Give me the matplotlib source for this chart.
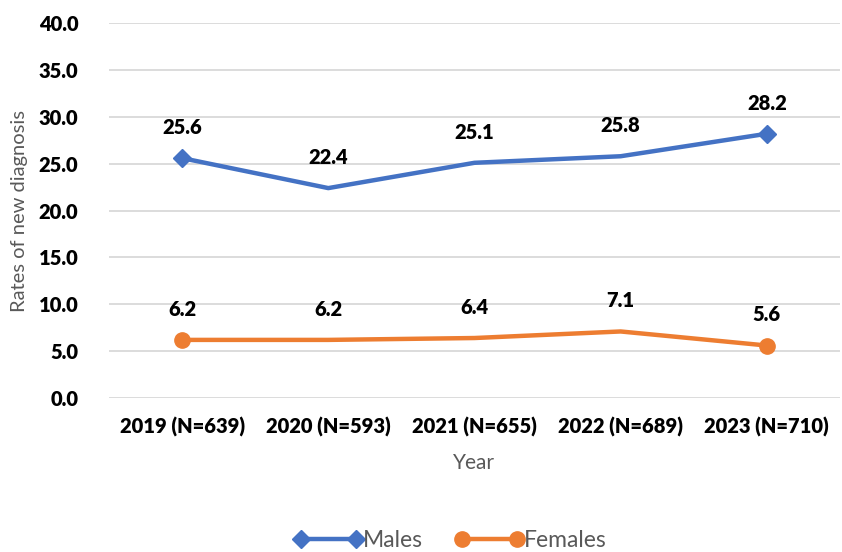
import matplotlib
matplotlib.use("Agg")
import matplotlib.pyplot as plt
from matplotlib.lines import Line2D

categories = ["2019 (N=639)", "2020 (N=593)", "2021 (N=655)", "2022 (N=689)", "2023 (N=710)"]
males = [25.6, 22.4, 25.1, 25.8, 28.2]
females = [6.2, 6.2, 6.4, 7.1, 5.6]
y_ticks = [0, 5, 10, 15, 20, 25, 30, 35, 40]

BLUE = "#4472C4"
ORANGE = "#ED7D31"
GRID = "#D9D9D9"
GREY = "#595959"
BOLD = "heavy"

plt.rcParams["font.family"] = ["Lato", "DejaVu Sans"]

fig = plt.figure(figsize=(8.42, 5.52), dpi=100)
ax = fig.add_axes([0.1295, 0.279, 0.868, 0.679])

x = list(range(len(categories)))
ax.plot(x, males, color=BLUE, lw=3.2, marker="D", markersize=9,
        markevery=[0, len(x) - 1], solid_capstyle="round", solid_joinstyle="round", zorder=3)
ax.plot(x, females, color=ORANGE, lw=3.2, marker="o", markersize=11,
        markevery=[0, len(x) - 1], solid_capstyle="round", solid_joinstyle="round", zorder=3)

for series in (males, females):
    for xi, v in zip(x, series):
        ax.annotate(f"{v:.1f}", (xi, v), xytext=(0, 22), textcoords="offset points",
                    ha="center", va="center", fontsize=14.5, fontweight=BOLD, color="black")

ax.set_xlim(-0.5, len(x) - 0.5)
ax.set_ylim(0, 40)
ax.set_yticks(y_ticks)
ax.set_yticklabels([f"{t:.1f}" for t in y_ticks], fontsize=14.5, fontweight=BOLD)
ax.set_xticks(x)
ax.set_xticklabels(categories, fontsize=14.5, fontweight=BOLD)
ax.tick_params(axis="both", length=0)
ax.tick_params(axis="y", pad=22)
ax.tick_params(axis="x", pad=14)

ax.grid(axis="y", color=GRID, lw=1.3)
ax.set_axisbelow(True)
for s in ax.spines.values():
    s.set_visible(False)

ax.set_ylabel("Rates of new diagnosis", fontsize=14.5, color=GREY, labelpad=8)
ax.set_xlabel("Year", fontsize=15, color=GREY, labelpad=11)

handles = [
    Line2D([0], [0], color=BLUE, lw=3.2, marker="D", markersize=9),
    Line2D([0], [0], color=ORANGE, lw=3.2, marker="o", markersize=11),
]
fig.legend(handles, ["Males", "Females"], loc="center", bbox_to_anchor=(0.535, 0.02),
           ncol=2, frameon=False, numpoints=2, handlelength=3.0, handletextpad=0.0,
           columnspacing=1.4, prop={"size": 16.5}, labelcolor=GREY)

fig.savefig("out.png", dpi=100)
